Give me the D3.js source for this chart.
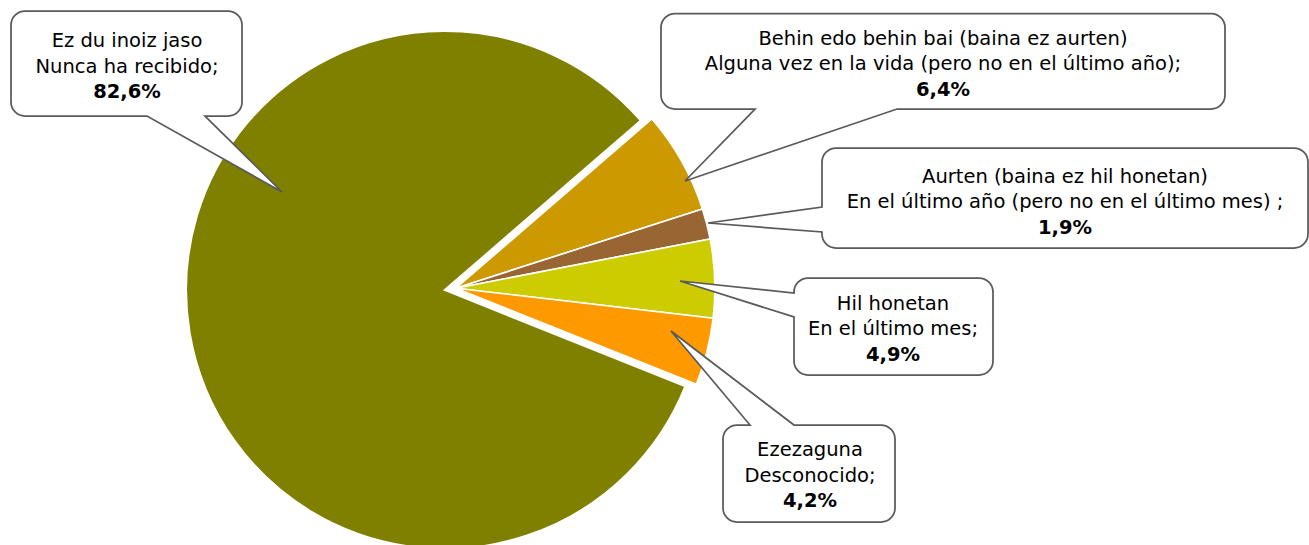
<!DOCTYPE html>
<html>
<head>
<meta charset="utf-8">
<script src="https://cdn.jsdelivr.net/npm/d3@7"></script>
<style>
html, body { margin: 0; padding: 0; background: #fff; }
svg { display: block; }
</style>
</head>
<body>
<svg id="chart" width="1309" height="545"></svg>
<script>
// ---- data ----
const labelsEu = ["Ez du inoiz jaso", "Behin edo behin bai (baina ez aurten)", "Aurten (baina ez hil honetan)", "Hil honetan", "Ezezaguna"];
const labelsEs = ["Nunca ha recibido;", "Alguna vez en la vida (pero no en el último año);", "En el último año (pero no en el último mes) ;", "En el último mes;", "Desconocido;"];
const values = [82.6, 6.4, 1.9, 4.9, 4.2];
const valueLabels = ["82,6%", "6,4%", "1,9%", "4,9%", "4,2%"];
const colors = ["#808000", "#CC9900", "#996633", "#CCCC00", "#FF9900"];
const exploded = [false, true, true, true, true];

// ---- layout ----
const W = 1309, H = 545;
const cx = 445, cy = 290, R = 259;
const rotation = 111.8 * Math.PI / 180;
const explodeDist = 11;
const fontFamily = "'DejaVu Sans', sans-serif";
const fontSize = 19.5;
const lineGap = 25.5;

// callout boxes: box, wedge side, wedge base (range along that side), tip, text center x, first baseline
const callouts = [
  {x: 11,  y: 11,  w: 231, h: 105, side: "bottom", base: [147, 205], tip: [282, 192], tx: 127, ty: 47},
  {x: 661, y: 13.5, w: 564, h: 95.5, side: "bottom", base: [755, 897], tip: [685, 181], tx: 943, ty: 44.5},
  {x: 822, y: 148, w: 486, h: 100, side: "left", base: [207, 232], tip: [708, 223], tx: 1065, ty: 182.5},
  {x: 794, y: 278, w: 199, h: 97,  side: "left", base: [293, 317], tip: [680, 281], tx: 893, ty: 309.5},
  {x: 723, y: 425, w: 172, h: 97,  side: "top",  base: [750, 794], tip: [671, 331], tx: 810, ty: 456}
];

const svg = d3.select("#chart");

const pie = d3.pie().sort(null).value(d => d)
  .startAngle(rotation).endAngle(rotation + 2 * Math.PI);
const arcs = pie(values);
const arc = d3.arc().innerRadius(0).outerRadius(R);

// explosion direction: mid angle of the exploded group
const grp = arcs.filter((a, i) => exploded[i]);
const gStart = d3.min(grp, a => a.startAngle), gEnd = d3.max(grp, a => a.endAngle);
const gMid = (gStart + gEnd) / 2;
const ex = Math.sin(gMid) * explodeDist, ey = -Math.cos(gMid) * explodeDist;

const pieG = svg.append("g").attr("transform", `translate(${cx},${cy})`);
pieG.selectAll("path.slice")
  .data(arcs)
  .join("path")
  .attr("class", "slice")
  .attr("d", arc)
  .attr("transform", (d, i) => exploded[i] ? `translate(${ex},${ey})` : null)
  .attr("fill", (d, i) => colors[i])
  .attr("stroke", "#ffffff")
  .attr("stroke-width", (d, i) => exploded[i] ? 1.6 : 2.2)
  .attr("stroke-linejoin", "miter");

// ---- callouts ----
function calloutPath(c, r) {
  const x0 = c.x, y0 = c.y, x1 = c.x + c.w, y1 = c.y + c.h;
  const [b1, b2] = c.base;
  const [tx, ty] = c.tip;
  const p = d3.path();
  p.moveTo(x0 + r, y0);
  if (c.side === "top") { p.lineTo(b1, y0); p.lineTo(tx, ty); p.lineTo(b2, y0); }
  p.lineTo(x1 - r, y0);
  p.arcTo(x1, y0, x1, y0 + r, r);
  p.lineTo(x1, y1 - r);
  p.arcTo(x1, y1, x1 - r, y1, r);
  if (c.side === "bottom") { p.lineTo(b2, y1); p.lineTo(tx, ty); p.lineTo(b1, y1); }
  p.lineTo(x0 + r, y1);
  p.arcTo(x0, y1, x0, y1 - r, r);
  if (c.side === "left") { p.lineTo(x0, b2); p.lineTo(tx, ty); p.lineTo(x0, b1); }
  p.lineTo(x0, y0 + r);
  p.arcTo(x0, y0, x0 + r, y0, r);
  p.closePath();
  return p.toString();
}

const cg = svg.append("g");
callouts.forEach((c, i) => {
  const g = cg.append("g");
  g.append("path")
    .attr("d", calloutPath(c, 14))
    .attr("fill", "#ffffff")
    .attr("stroke", "#5a5a5a")
    .attr("stroke-width", 1.75)
    .attr("stroke-linejoin", "miter");
  const t = g.append("text")
    .attr("text-anchor", "middle")
    .attr("font-family", fontFamily)
    .attr("font-size", fontSize)
    .attr("fill", "#000000");
  [labelsEu[i], labelsEs[i], valueLabels[i]].forEach((s, k) => {
    t.append("tspan")
      .attr("x", c.tx)
      .attr("y", c.ty + k * lineGap)
      .attr("font-weight", k === 2 ? "bold" : "normal")
      .text(s);
  });
});
</script>
</body>
</html>
